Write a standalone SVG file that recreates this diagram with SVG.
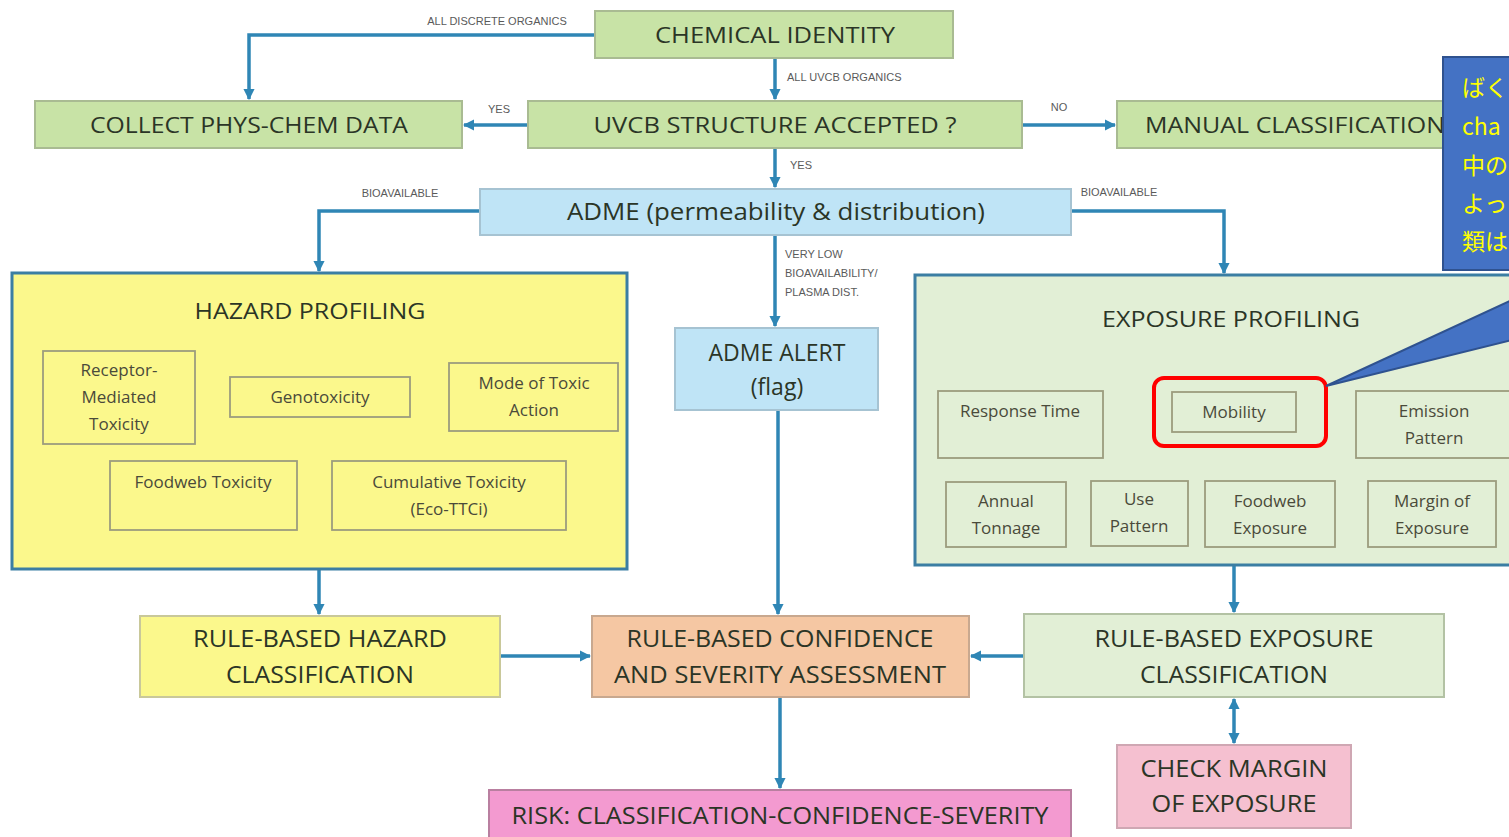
<svg xmlns="http://www.w3.org/2000/svg" width="1509" height="837" viewBox="0 0 1509 837">
  <defs>
    <marker id="arr" viewBox="0 0 10 10" refX="9" refY="5" markerWidth="3.2" markerHeight="3.2" orient="auto-start-reverse">
      <path d="M0,0 L10,5 L0,10 z" fill="#2f86b5"/>
    </marker>
    <style>
      .main { font-family: "Open Sans", "Liberation Sans", sans-serif; fill: #2b3526; text-anchor: middle; }
      .start { text-anchor: start; }
      .sub { font-family: "Open Sans", "Liberation Sans", sans-serif; fill: #4a4a3a; text-anchor: middle; font-size: 17px; }
      .lbl { font-family: "Liberation Sans", "DejaVu Sans", sans-serif; fill: #5a5a5a; font-size: 11px; }
      .green { fill: #c8e3a6; stroke: #a9bb92; stroke-width: 2; }
      .lgreen { fill: #e2efd6; stroke: #b3c2a4; stroke-width: 2; }
      .blue { fill: #bfe4f6; stroke: #a6c3d2; stroke-width: 2; }
      .yellow { fill: #fbf88c; stroke: #c9c89a; stroke-width: 2; }
      .salmon { fill: #f5c7a3; stroke: #c8a88f; stroke-width: 2; }
      .pink { fill: #f5c0d0; stroke: #cfa7b3; stroke-width: 2; }
      .magenta { fill: #f39ad0; stroke: #b97fa0; stroke-width: 2; }
      .panel { stroke: #3b7ea3; stroke-width: 3; }
      .box { fill: none; stroke: #9c9c7e; stroke-width: 1.8; }
      .wire { fill: none; stroke: #2f86b5; stroke-width: 3.5; }
      .arrow { marker-end: url(#arr); }
      .callout { font-family: "Noto Sans CJK JP", sans-serif; fill: #ffff00; font-size: 23px; }
    </style>
  </defs>

  <rect width="1509" height="837" fill="#ffffff"/>

  <!-- connectors -->
  <g id="connectors">
    <path class="wire arrow" d="M595,35 H249 V99"/>
    <text class="lbl" x="497" y="25" text-anchor="middle">ALL DISCRETE ORGANICS</text>
    <path class="wire arrow" d="M775,58 V99"/>
    <text class="lbl" x="787" y="81">ALL UVCB ORGANICS</text>
    <path class="wire arrow" d="M528,125 H464"/>
    <text class="lbl" x="499" y="113" text-anchor="middle">YES</text>
    <path class="wire arrow" d="M1022,125 H1115"/>
    <text class="lbl" x="1059" y="111" text-anchor="middle">NO</text>
    <path class="wire arrow" d="M775,148 V187"/>
    <text class="lbl" x="790" y="169">YES</text>
    <path class="wire arrow" d="M480,211 H319 V271"/>
    <text class="lbl" x="400" y="197" text-anchor="middle">BIOAVAILABLE</text>
    <path class="wire arrow" d="M1071,211 H1224 V273"/>
    <text class="lbl" x="1119" y="196" text-anchor="middle">BIOAVAILABLE</text>
    <path class="wire arrow" d="M775,235 V326"/>
    <text class="lbl" x="785" y="258">VERY LOW</text>
    <text class="lbl" x="785" y="277">BIOAVAILABILITY/</text>
    <text class="lbl" x="785" y="296">PLASMA DIST.</text>
    <path class="wire arrow" d="M778,410 V614"/>
    <path class="wire arrow" d="M319,569 V614"/>
    <path class="wire arrow" d="M1234,565 V612"/>
    <path class="wire arrow" d="M500,656 H590"/>
    <path class="wire arrow" d="M1024,656 H971"/>
    <path class="wire arrow" d="M780,697 V788"/>
    <!-- two-way link between exposure classification and margin check -->
    <path class="wire" d="M1234,699 V743" marker-start="url(#arr)" marker-end="url(#arr)"/>
  </g>

  <g id="chemical-identity">
    <rect class="green" x="595" y="11" width="358" height="47"/>
    <text class="main" x="775" y="43" font-size="22" textLength="240" lengthAdjust="spacingAndGlyphs">CHEMICAL IDENTITY</text>
  </g>

  <g id="collect-phys-chem">
    <rect class="green" x="35" y="101" width="427" height="47"/>
    <text class="main" x="249" y="133" font-size="22" textLength="318" lengthAdjust="spacingAndGlyphs">COLLECT PHYS-CHEM DATA</text>
  </g>

  <g id="uvcb-structure">
    <rect class="green" x="528" y="101" width="494" height="47"/>
    <text class="main" x="775" y="133" font-size="22" textLength="363" lengthAdjust="spacingAndGlyphs">UVCB STRUCTURE ACCEPTED ?</text>
  </g>

  <g id="manual-classification">
    <rect class="green" x="1117" y="101" width="400" height="47"/>
    <text class="main start" x="1145" y="133" font-size="22" textLength="300" lengthAdjust="spacingAndGlyphs">MANUAL CLASSIFICATION</text>
  </g>

  <g id="adme">
    <rect class="blue" x="480" y="189" width="591" height="46"/>
    <text class="main" x="776" y="220" font-size="23" textLength="418" lengthAdjust="spacingAndGlyphs">ADME (permeability &amp; distribution)</text>
  </g>

  <g id="hazard-profiling">
    <rect class="yellow panel" x="12" y="273" width="615" height="296"/>
    <text class="main" x="310" y="319" font-size="22" textLength="231" lengthAdjust="spacingAndGlyphs">HAZARD PROFILING</text>
    <rect class="box" x="43" y="351" width="152" height="93"/>
    <text class="sub" x="119" y="376">Receptor-</text>
    <text class="sub" x="119" y="403">Mediated</text>
    <text class="sub" x="119" y="430">Toxicity</text>
    <rect class="box" x="230" y="377" width="180" height="40"/>
    <text class="sub" x="320" y="403">Genotoxicity</text>
    <rect class="box" x="449" y="363" width="169" height="68"/>
    <text class="sub" x="534" y="389">Mode of Toxic</text>
    <text class="sub" x="534" y="416">Action</text>
    <rect class="box" x="110" y="461" width="187" height="69"/>
    <text class="sub" x="203" y="488">Foodweb Toxicity</text>
    <rect class="box" x="332" y="461" width="234" height="69"/>
    <text class="sub" x="449" y="488">Cumulative Toxicity</text>
    <text class="sub" x="449" y="515">(Eco-TTCi)</text>
  </g>

  <g id="adme-alert">
    <rect class="blue" x="675" y="328" width="203" height="82"/>
    <text class="main" x="777" y="361" font-size="23">ADME ALERT</text>
    <text class="main" x="777" y="395" font-size="23">(flag)</text>
  </g>

  <g id="exposure-profiling">
    <rect class="lgreen panel" x="915" y="275" width="610" height="290"/>
    <text class="main" x="1231" y="327" font-size="22" textLength="258" lengthAdjust="spacingAndGlyphs">EXPOSURE PROFILING</text>
    <rect class="box" x="938" y="391" width="165" height="67"/>
    <text class="sub" x="1020" y="417">Response Time</text>
    <rect class="box" x="1172" y="392" width="124" height="40"/>
    <text class="sub" x="1234" y="418">Mobility</text>
    <rect class="box" x="1356" y="391" width="165" height="67"/>
    <text class="sub" x="1434" y="417">Emission</text>
    <text class="sub" x="1434" y="444">Pattern</text>
    <rect class="box" x="946" y="482" width="120" height="65"/>
    <text class="sub" x="1006" y="507">Annual</text>
    <text class="sub" x="1006" y="534">Tonnage</text>
    <rect class="box" x="1091" y="481" width="97" height="65"/>
    <text class="sub" x="1139" y="505">Use</text>
    <text class="sub" x="1139" y="532">Pattern</text>
    <rect class="box" x="1205" y="481" width="130" height="66"/>
    <text class="sub" x="1270" y="507">Foodweb</text>
    <text class="sub" x="1270" y="534">Exposure</text>
    <rect class="box" x="1368" y="481" width="128" height="66"/>
    <text class="sub" x="1432" y="507">Margin of</text>
    <text class="sub" x="1432" y="534">Exposure</text>
  </g>

  <g id="rule-hazard">
    <rect class="yellow" x="140" y="616" width="360" height="81"/>
    <text class="main" x="320" y="647" font-size="23" textLength="254" lengthAdjust="spacingAndGlyphs">RULE-BASED HAZARD</text>
    <text class="main" x="320" y="683" font-size="23" textLength="188" lengthAdjust="spacingAndGlyphs">CLASSIFICATION</text>
  </g>

  <g id="rule-confidence">
    <rect class="salmon" x="592" y="616" width="377" height="81"/>
    <text class="main" x="780" y="647" font-size="23" textLength="307" lengthAdjust="spacingAndGlyphs">RULE-BASED CONFIDENCE</text>
    <text class="main" x="780" y="683" font-size="23" textLength="332" lengthAdjust="spacingAndGlyphs">AND SEVERITY ASSESSMENT</text>
  </g>

  <g id="rule-exposure">
    <rect class="lgreen" x="1024" y="614" width="420" height="83"/>
    <text class="main" x="1234" y="647" font-size="23" textLength="279" lengthAdjust="spacingAndGlyphs">RULE-BASED EXPOSURE</text>
    <text class="main" x="1234" y="683" font-size="23" textLength="188" lengthAdjust="spacingAndGlyphs">CLASSIFICATION</text>
  </g>

  <g id="check-margin">
    <rect class="pink" x="1117" y="745" width="234" height="83"/>
    <text class="main" x="1234" y="777" font-size="23" textLength="187" lengthAdjust="spacingAndGlyphs">CHECK MARGIN</text>
    <text class="main" x="1234" y="812" font-size="23" textLength="165" lengthAdjust="spacingAndGlyphs">OF EXPOSURE</text>
  </g>

  <g id="risk">
    <rect class="magenta" x="489" y="790" width="582" height="52"/>
    <text class="main" x="780" y="824" font-size="23" textLength="537" lengthAdjust="spacingAndGlyphs">RISK: CLASSIFICATION-CONFIDENCE-SEVERITY</text>
  </g>

  <!-- highlight round the mobility box, with a speech-bubble pointer -->
  <g id="highlight">
    <rect x="1154" y="378" width="172" height="68" rx="10" fill="none" stroke="#ff0000" stroke-width="4"/>
    <polygon points="1326,386 1512,300 1512,340" fill="#4472c4" stroke="#2f528f" stroke-width="2"/>
  </g>

  <g id="callout">
    <rect x="1443" y="57" width="80" height="213" fill="#4472c4" stroke="#2f528f" stroke-width="2"/>
    <text class="callout" x="1462" y="96">ばく</text>
    <text class="callout" x="1462" y="135">cha</text>
    <text class="callout" x="1462" y="174">中の</text>
    <text class="callout" x="1462" y="212">よっ</text>
    <text class="callout" x="1462" y="250">類は</text>
  </g>
</svg>
